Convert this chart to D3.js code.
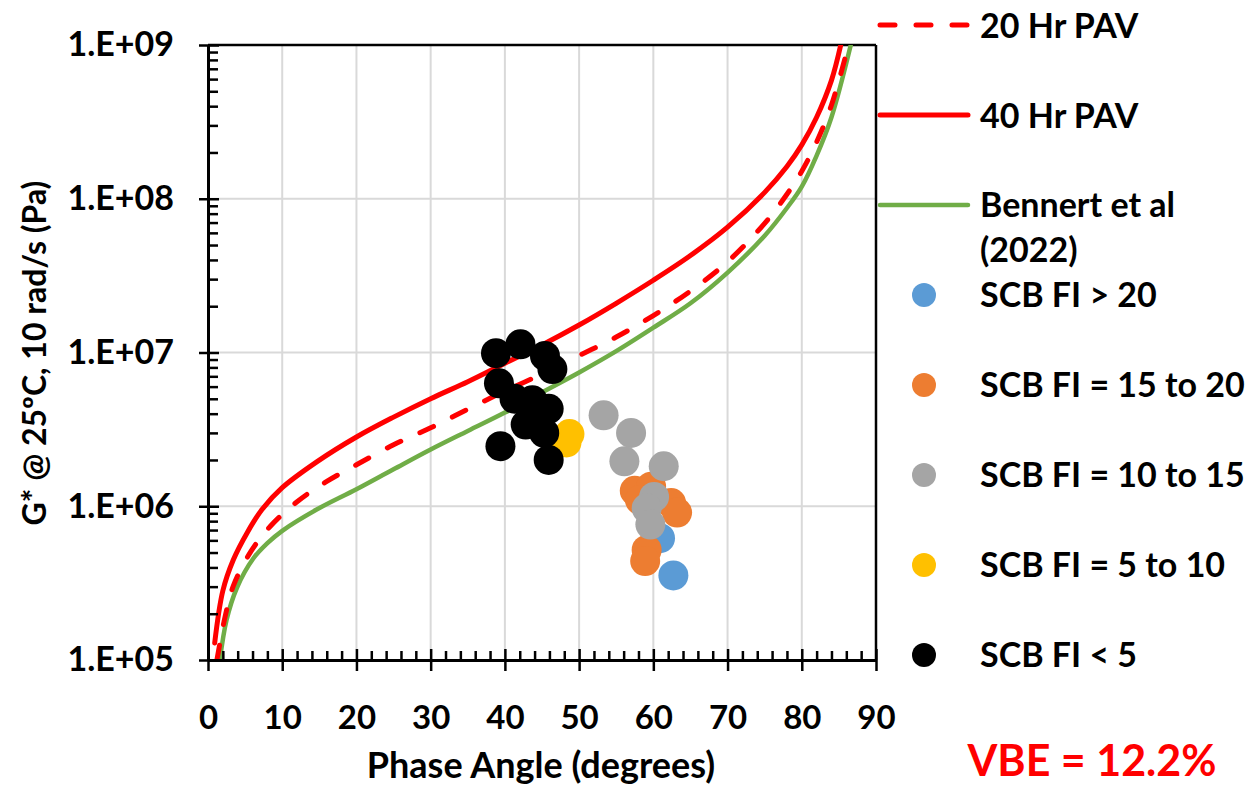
<!DOCTYPE html>
<html>
<head>
<meta charset="utf-8">
<script src="https://cdn.jsdelivr.net/npm/d3@7"></script>
<style>
  html, body { margin: 0; padding: 0; background: #fff; }
  svg { display: block; }
  text { font-family: Lato, "Open Sans", sans-serif; font-weight: 700; fill: #000; }
</style>
</head>
<body>
<svg id="chart" width="1250" height="786"></svg>
<script>
// ---------------- DATA ----------------
const xTicks = [0, 10, 20, 30, 40, 50, 60, 70, 80, 90];
const yTicks = [1e5, 1e6, 1e7, 1e8, 1e9];

// Curves (phase angle in degrees, G* in Pa)
const pav20Phase = [1.2, 2.3, 3.4, 5.7, 8.4, 12, 16, 20, 25, 30, 35, 40, 45, 50, 55, 60, 65, 70, 75, 78, 80, 82, 84, 86.3];
const pav20G     = [1.0e5, 1.91e5, 3.02e5, 5.01e5, 7.41e5, 1.07e6, 1.45e6, 1.86e6, 2.51e6, 3.24e6, 4.27e6, 5.62e6, 7.24e6, 9.55e6, 1.26e7, 1.74e7, 2.51e7, 3.89e7, 6.92e7, 1.07e8, 1.51e8, 2.34e8, 4.07e8, 1.0e9];

const pav40Phase = [0.9, 2.0, 3.4, 5.3, 7.3, 10, 14.7, 20, 25, 30, 35, 40, 45, 50, 55, 60, 65, 70, 75, 78, 80, 82, 84, 85.25];
const pav40G     = [1.29e5, 2.82e5, 4.47e5, 6.76e5, 9.55e5, 1.32e6, 1.95e6, 2.82e6, 3.80e6, 5.01e6, 6.46e6, 8.51e6, 1.12e7, 1.51e7, 2.09e7, 2.95e7, 4.27e7, 6.53e7, 1.10e8, 1.62e8, 2.24e8, 3.39e8, 5.89e8, 1.0e9];

const bennertPhase = [1.6, 2.5, 3.9, 6.1, 8, 10, 14.7, 20, 25, 30, 35, 40, 45, 50, 55, 60, 65, 70, 75, 78, 80, 82, 84, 86.6];
const bennertG     = [1.0e5, 1.82e5, 2.95e5, 4.57e5, 5.75e5, 6.92e5, 9.55e5, 1.29e6, 1.74e6, 2.34e6, 3.09e6, 4.07e6, 5.50e6, 7.41e6, 1.02e7, 1.45e7, 2.09e7, 3.31e7, 5.75e7, 8.71e7, 1.20e8, 1.91e8, 3.39e8, 1.0e9];

// Scatter points by SCB FI group
const fiGt20Phase = [60.9, 62.7];
const fiGt20G     = [6.2e5, 3.55e5];

const fi15to20Phase = [57.5, 59.7, 62.4, 63.2, 58.2, 59.1, 58.9];
const fi15to20G     = [1.26e6, 1.34e6, 1.05e6, 9.1e5, 1.1e6, 5.2e5, 4.4e5];

const fi10to15Phase = [53.3, 57.0, 56.1, 61.4, 60.1, 59.1, 59.6];
const fi10to15G     = [3.9e6, 3.0e6, 1.96e6, 1.82e6, 1.15e6, 9.7e5, 7.6e5];

const fi5to10Phase = [48.7, 48.3];
const fi5to10G     = [2.95e6, 2.6e6];

const fiLt5Phase = [38.8, 42.1, 45.4, 46.4, 39.2, 41.3, 43.7, 45.9, 42.8, 45.3, 39.4, 45.9];
const fiLt5G     = [9.9e6, 1.13e7, 9.5e6, 7.8e6, 6.3e6, 5.0e6, 4.9e6, 4.3e6, 3.4e6, 3.0e6, 2.46e6, 2.0e6];

const lineLabels = ["20 Hr PAV", "40 Hr PAV", "Bennert et al", "(2022)"];
const pointLabels = ["SCB FI > 20", "SCB FI = 15 to 20", "SCB FI = 10 to 15", "SCB FI = 5 to 10", "SCB FI < 5"];
const xTitle = "Phase Angle (degrees)";
const yTitle = "G* @ 25ºC, 10 rad/s (Pa)";
const vbeText = "VBE = 12.2%";

// ---------------- CHART ----------------
const svg = d3.select("#chart");
const L = 208, R = 876, T = 45, B = 660;
const x = d3.scaleLinear().domain([0, 90]).range([L, R]);
const y = d3.scaleLog().domain([1e5, 1e9]).range([B, T]);

const RED = "#FF0000", GREEN = "#70AD47";

// gridlines
const grid = svg.append("g").attr("stroke", "#D9D9D9").attr("stroke-width", 2);
xTicks.filter(d => d > 0 && d < 90).forEach(d => {
  grid.append("line").attr("x1", x(d)).attr("x2", x(d)).attr("y1", T).attr("y2", B);
});
yTicks.filter(d => d > 1e5 && d < 1e9).forEach(d => {
  grid.append("line").attr("x1", L).attr("x2", R).attr("y1", y(d)).attr("y2", y(d));
});

// top & right border
svg.append("line").attr("x1", L).attr("x2", R).attr("y1", T).attr("y2", T).attr("stroke", "#000").attr("stroke-width", 2.5);
svg.append("line").attr("x1", R).attr("x2", R).attr("y1", T).attr("y2", B).attr("stroke", "#000").attr("stroke-width", 2.5);

// clip
svg.append("defs").append("clipPath").attr("id", "plotClip")
  .append("rect").attr("x", L).attr("y", T).attr("width", R - L).attr("height", B - T);

const line = d3.line().x(d => x(d[0])).y(d => y(d[1])).curve(d3.curveCatmullRom.alpha(0.5));
const curves = svg.append("g").attr("clip-path", "url(#plotClip)").attr("fill", "none").attr("stroke-linecap", "round");

curves.append("path").datum(d3.zip(bennertPhase, bennertG)).attr("d", line)
  .attr("stroke", GREEN).attr("stroke-width", 4.5);
curves.append("path").datum(d3.zip(pav20Phase, pav20G)).attr("d", line)
  .attr("stroke", RED).attr("stroke-width", 5).attr("stroke-dasharray", "15,21");
curves.append("path").datum(d3.zip(pav40Phase, pav40G)).attr("d", line)
  .attr("stroke", RED).attr("stroke-width", 5);

// points
const groups = [
  { px: fiGt20Phase, py: fiGt20G, color: "#5B9BD5" },
  { px: fi15to20Phase, py: fi15to20G, color: "#ED7D31" },
  { px: fi10to15Phase, py: fi10to15G, color: "#A5A5A5" },
  { px: fi5to10Phase, py: fi5to10G, color: "#FFC000" },
  { px: fiLt5Phase, py: fiLt5G, color: "#000000" }
];
groups.forEach(g => {
  svg.append("g").selectAll("circle").data(d3.zip(g.px, g.py)).join("circle")
    .attr("cx", d => x(d[0])).attr("cy", d => y(d[1])).attr("r", 15).attr("fill", g.color);
});

// x axis
const xMinor = d3.range(0, 91, 2).filter(d => d % 10 !== 0);
const xAxisMinor = svg.append("g").attr("transform", `translate(0,${B})`)
  .call(d3.axisBottom(x).tickValues(xMinor).tickSize(-9).tickFormat(""));
xAxisMinor.select(".domain").remove();
xAxisMinor.selectAll("line").attr("stroke", "#000").attr("stroke-width", 2.5);

const xAxis = svg.append("g").attr("transform", `translate(0,${B})`)
  .call(d3.axisBottom(x).tickValues(xTicks).tickSize(11).tickSizeOuter(0).tickPadding(35).tickFormat(d3.format("d")));
xAxis.select(".domain").attr("stroke", "#000").attr("stroke-width", 3);
xAxis.selectAll(".tick line").attr("y1", -11).attr("stroke", "#000").attr("stroke-width", 2.5);
xAxis.selectAll("text").attr("font-size", 33).attr("font-family", "Lato, sans-serif").attr("font-weight", 700).attr("fill", "#000");

// y axis
const yMinor = [];
for (let e = 5; e < 9; e++) for (let m = 2; m <= 9; m++) yMinor.push(m * Math.pow(10, e));
const yAxisMinor = svg.append("g").attr("transform", `translate(${L},0)`)
  .call(d3.axisLeft(y).tickValues(yMinor).tickSize(-10).tickFormat(""));
yAxisMinor.select(".domain").remove();
yAxisMinor.selectAll("line").attr("stroke", "#000").attr("stroke-width", 2.5);

const fmtY = d => "1.E+" + String(Math.round(Math.log10(d))).padStart(2, "0");
const yAxis = svg.append("g").attr("transform", `translate(${L},0)`)
  .call(d3.axisLeft(y).tickValues(yTicks).tickSize(9).tickSizeOuter(0).tickPadding(25).tickFormat(fmtY));
yAxis.select(".domain").attr("stroke", "#000").attr("stroke-width", 3);
yAxis.selectAll(".tick line").attr("x1", 11).attr("stroke", "#000").attr("stroke-width", 2.5);
yAxis.selectAll("text").attr("font-size", 34).attr("font-family", "Lato, sans-serif").attr("font-weight", 700).attr("fill", "#000");

// axis titles
svg.append("text").attr("x", 541).attr("y", 778).attr("text-anchor", "middle")
  .attr("font-size", 36).text(xTitle);
svg.append("text").attr("transform", "translate(46,353) rotate(-90)").attr("text-anchor", "middle")
  .attr("font-size", 32).text(yTitle);

// VBE
svg.append("text").attr("x", 1092).attr("y", 776).attr("text-anchor", "middle")
  .attr("font-size", 43).style("fill", RED).text(vbeText);

// legend
const lg = svg.append("g");
const LX1 = 880, LX2 = 968, TX = 980;
lg.append("line").attr("x1", LX1).attr("x2", LX2).attr("y1", 25).attr("y2", 25)
  .attr("stroke", RED).attr("stroke-width", 5).attr("stroke-linecap", "round").attr("stroke-dasharray", "15,21");
lg.append("text").attr("x", TX).attr("y", 37.5).attr("font-size", 34).text(lineLabels[0]);
lg.append("line").attr("x1", LX1).attr("x2", LX2).attr("y1", 115).attr("y2", 115)
  .attr("stroke", RED).attr("stroke-width", 5).attr("stroke-linecap", "round");
lg.append("text").attr("x", TX).attr("y", 127.5).attr("font-size", 34).text(lineLabels[1]);
lg.append("line").attr("x1", LX1).attr("x2", LX2).attr("y1", 205).attr("y2", 205)
  .attr("stroke", GREEN).attr("stroke-width", 4.5).attr("stroke-linecap", "round");
lg.append("text").attr("x", TX).attr("y", 217).attr("font-size", 34).text(lineLabels[2]);
lg.append("text").attr("x", TX).attr("y", 262).attr("font-size", 34).text(lineLabels[3]);

const legendY = [295, 385, 475, 565, 655];
groups.forEach((g, i) => {
  lg.append("circle").attr("cx", 924).attr("cy", legendY[i]).attr("r", 12).attr("fill", g.color);
  lg.append("text").attr("x", TX).attr("y", legendY[i] + 12).attr("font-size", 34).text(pointLabels[i]);
});
</script>
</body>
</html>
